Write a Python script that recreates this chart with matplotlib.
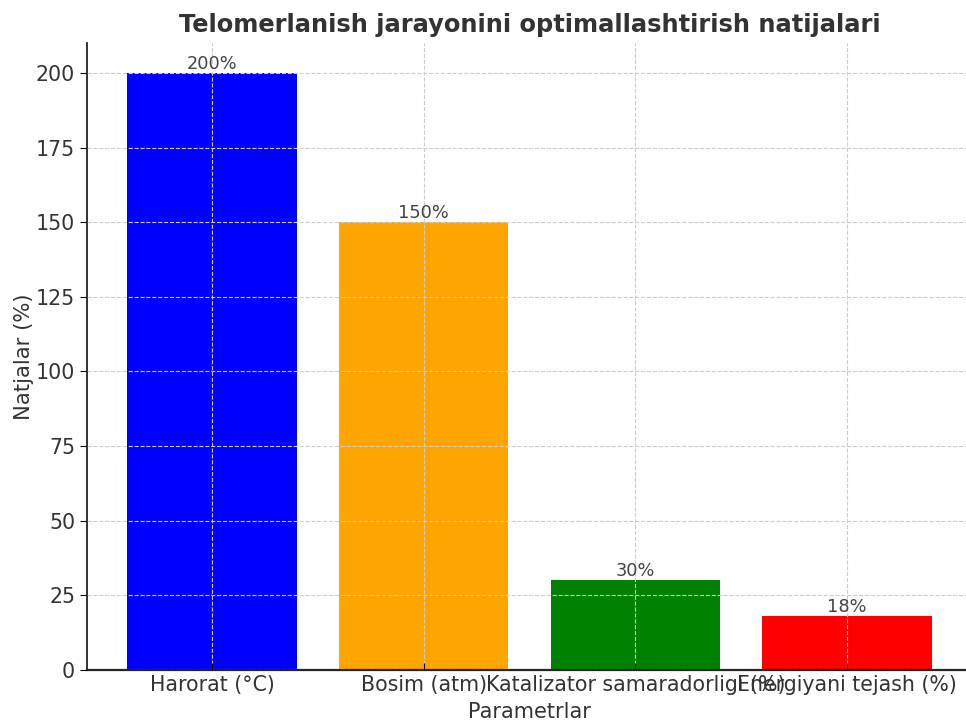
import matplotlib
matplotlib.use("Agg")
import matplotlib.pyplot as plt

categories = ["Harorat (°C)", "Bosim (atm)", "Katalizator samaradorligi (%)", "Energiyani tejash (%)"]
values = [200, 150, 30, 18]
colors = ["blue", "orange", "green", "red"]
yticks = [0, 25, 50, 75, 100, 125, 150, 175, 200]

plt.rcParams["font.family"] = ["DejaVu Sans"]
text_color = "#333333"

fig = plt.figure(figsize=(9.66, 7.22), dpi=100)
ax = fig.add_axes([0.0901, 0.0720, 0.9161, 0.8684])

bars = ax.bar(categories, values, color=colors, width=0.8, zorder=2)
for bar, v in zip(bars, values):
    ax.text(bar.get_x() + bar.get_width() / 2, v, f"{v}%",
            ha="center", va="bottom", fontsize=12.8, color="#444444", zorder=3)

ax.set_ylim(0, 210)
ax.set_yticks(yticks)
ax.grid(True, linestyle="--", color="#cccccc", linewidth=0.8, zorder=3)
ax.set_axisbelow(False)

for s in ("top", "right"):
    ax.spines[s].set_visible(False)
ax.spines["left"].set_linewidth(1.3)
ax.spines["bottom"].set_linewidth(1.6)
ax.spines["left"].set_color("#222222")
ax.spines["bottom"].set_color("#222222")

ax.tick_params(axis="y", direction="out", length=5, labelsize=14.8, labelcolor=text_color)
ax.tick_params(axis="x", direction="in", length=5, labelsize=14.8, labelcolor=text_color)

ax.set_title("Telomerlanish jarayonini optimallashtirish natijalari",
             fontsize=17.4, fontweight="bold", color=text_color, pad=8)
ax.set_ylabel("Natjalar (%)", fontsize=15.2, color=text_color, labelpad=1)
ax.set_xlabel("Parametrlar", fontsize=15, color=text_color, labelpad=5)

fig.savefig("out.png", dpi=100)
